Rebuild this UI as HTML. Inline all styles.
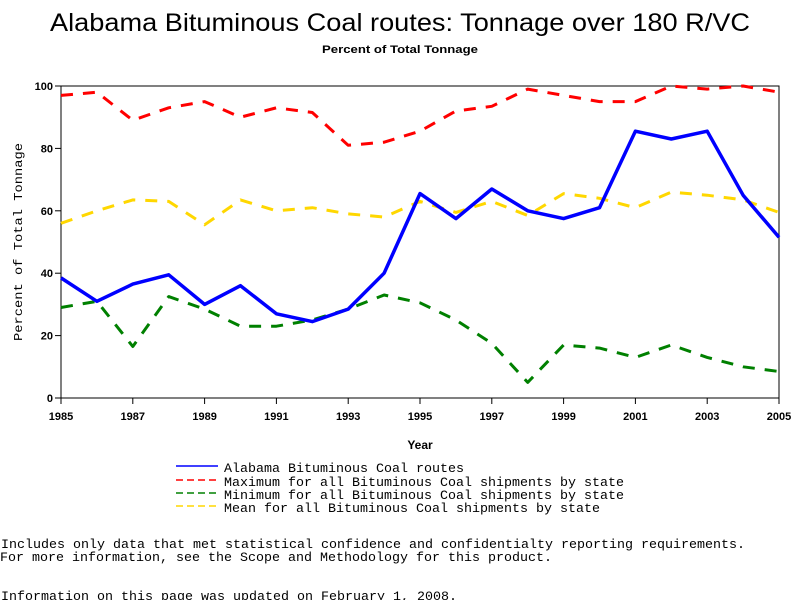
<!DOCTYPE html>
<html><head><meta charset="utf-8"><style>body{margin:0;background:#fff}svg{display:block}</style></head>
<body>
<svg id="chart" width="800" height="600" xmlns="http://www.w3.org/2000/svg" font-family="Liberation Sans, sans-serif">
<text x="400" y="31" font-size="25" text-anchor="middle" textLength="700" lengthAdjust="spacingAndGlyphs">Alabama Bituminous Coal routes: Tonnage over 180 R/VC</text>
<text x="400" y="53" font-size="11" font-weight="bold" text-anchor="middle" textLength="156" lengthAdjust="spacingAndGlyphs">Percent of Total Tonnage</text>
<g id="plot"></g>
<text transform="translate(22,242) rotate(-90)" font-family="Liberation Mono, monospace" font-size="12" text-anchor="middle" textLength="198" lengthAdjust="spacingAndGlyphs">Percent of Total Tonnage</text>
<text x="420" y="449" font-size="12" font-weight="bold" text-anchor="middle">Year</text>
<g font-family="Liberation Mono, monospace" font-size="13">
<line x1="176" x2="218" y1="466" y2="466" stroke="#0000ff" stroke-width="1.5"/>
<text x="224" y="472" textLength="240" lengthAdjust="spacingAndGlyphs">Alabama Bituminous Coal routes</text>
<line x1="176" x2="218" y1="480" y2="480" stroke="#ff0000" stroke-width="1.5" stroke-dasharray="7,4"/>
<text x="224" y="486" textLength="400" lengthAdjust="spacingAndGlyphs">Maximum for all Bituminous Coal shipments by state</text>
<line x1="176" x2="218" y1="493" y2="493" stroke="#008000" stroke-width="1.5" stroke-dasharray="7,4"/>
<text x="224" y="499" textLength="400" lengthAdjust="spacingAndGlyphs">Minimum for all Bituminous Coal shipments by state</text>
<line x1="176" x2="218" y1="506" y2="506" stroke="#ffd700" stroke-width="1.5" stroke-dasharray="7,4"/>
<text x="224" y="512" textLength="376" lengthAdjust="spacingAndGlyphs">Mean for all Bituminous Coal shipments by state</text>
</g>
<g font-family="Liberation Mono, monospace" font-size="13">
<text x="1" y="548" textLength="744" lengthAdjust="spacingAndGlyphs">Includes only data that met statistical confidence and confidentialty reporting requirements.</text>
<text x="0" y="561" textLength="552" lengthAdjust="spacingAndGlyphs">For more information, see the Scope and Methodology for this product.</text>
<text x="1" y="600" textLength="456" lengthAdjust="spacingAndGlyphs">Information on this page was updated on February 1, 2008.</text>
</g>
</svg>
<script>
const years = [1985,1986,1987,1988,1989,1990,1991,1992,1993,1994,1995,1996,1997,1998,1999,2000,2001,2002,2003,2004,2005];
const alabama = [38.5,31,36.5,39.5,30,36,27,24.5,28.5,40,65.5,57.5,67,60,57.5,61,85.5,83,85.5,65,51.5];
const maximum = [97,98,89,93,95,90,93,91.5,81,82,85.5,92,93.5,99,97,95,95,100,99,100,98];
const minimum = [29,31,16.5,32.5,28.5,23,23,25,28.5,33,30.5,25,17.5,5,17,16,13,17,13,10,8.5];
const mean = [56,60,63.5,63,55.5,63.5,60,61,59,58,63,59.5,63,58.5,65.5,64,61,66,65,63.5,59.5];
const yTicks = [0,20,40,60,80,100];
const xTicks = [1985,1987,1989,1991,1993,1995,1997,1999,2001,2003,2005];

const NS = "http://www.w3.org/2000/svg";
const g = document.getElementById('plot');
const X0=61, X1=779, Y0=398, Y1=86;
const xs = v => X0 + (v-1985)/(2005-1985)*(X1-X0);
const ys = v => Y0 - v/100*(Y0-Y1);
function mk(tag, attrs){const e=document.createElementNS(NS,tag);for(const k in attrs)e.setAttribute(k,attrs[k]);g.appendChild(e);return e;}

const frame = mk('rect',{x:X0,y:Y1,width:X1-X0,height:Y0-Y1,fill:'none',stroke:'#000','stroke-width':1});


yTicks.forEach(t=>{
  const l=mk('line',{x1:X0-6,x2:X0,y1:ys(t),y2:ys(t),stroke:'#000'});
  
  
  const tx=mk('text',{x:X0-8,y:ys(t)+4,'font-size':11,'font-weight':'bold','text-anchor':'end'});
  tx.textContent=t;
  
  
});
xTicks.forEach(t=>{
  const l=mk('line',{x1:xs(t),x2:xs(t),y1:Y0,y2:Y0+6,stroke:'#000'});
  
  
  const tx=mk('text',{x:xs(t),y:Y0+22,'font-size':11,'font-weight':'bold','text-anchor':'middle'});
  tx.textContent=t;
  
  
});
function series(vals,color,dash,name,w){
  const pts=vals.map((v,i)=>xs(years[i]).toFixed(1)+','+ys(v).toFixed(1)).join(' ');
  const p=mk('polyline',{points:pts,fill:'none',stroke:color,'stroke-width':w,'stroke-linejoin':'round'});
  if(dash)p.setAttribute('stroke-dasharray',dash);
  
  
}
series(mean,'#ffd700','12,10','line-mean',3);
series(minimum,'#008000','12,10','line-minimum',3);
series(maximum,'#ff0000','12,10','line-maximum',3);
series(alabama,'#0000ff',null,'line-alabama',3.5);
</script>
</body></html>
